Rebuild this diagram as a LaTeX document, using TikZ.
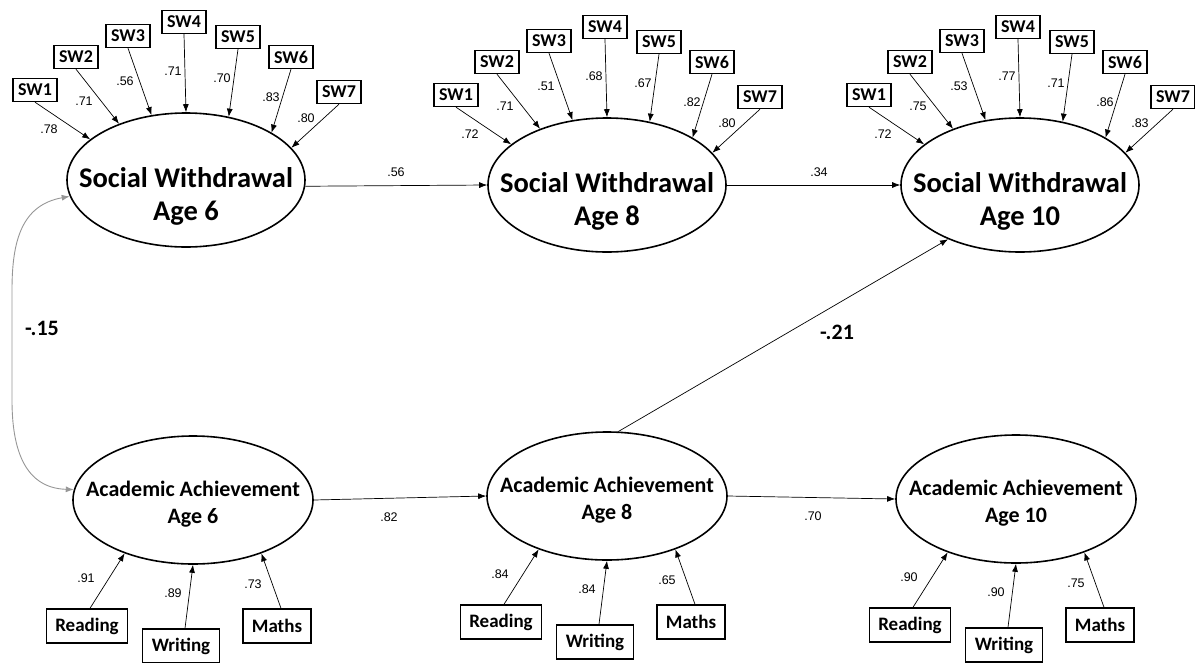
\documentclass[tikz,border=0pt]{standalone}
\usepackage{fontspec}
\setmainfont{Carlito}
\newfontfamily\numfont{Liberation Sans}
\usetikzlibrary{shapes.geometric,arrows.meta}
\definecolor{covgray}{RGB}{150,150,150}
\begin{document}
\begin{tikzpicture}[x=1pt,y=-1pt,
 swell/.style={ellipse,draw,line width=1.6pt,minimum width=238pt,minimum height=134pt,inner sep=0pt},
 aaell/.style={ellipse,draw,line width=1.6pt,minimum width=240pt,minimum height=128pt,inner sep=0pt},
 swtxt/.style={align=center,font=\bfseries\fontsize{28.5}{33}\selectfont,inner sep=0pt},
 aatxt/.style={align=center,font=\bfseries\fontsize{22}{27}\selectfont,inner sep=0pt},
 swbox/.style={draw,line width=1.4pt,minimum width=44pt,minimum height=23pt,inner sep=0pt,font=\bfseries\fontsize{18}{18}\selectfont},
 indbox/.style={draw,line width=1.4pt,minimum height=34pt,inner xsep=9pt,inner ysep=0pt,font=\bfseries\fontsize{19}{19}\selectfont},
 arr/.style={-{Latex[length=8pt,width=6pt]},line width=0.7pt},
 load/.style={font=\numfont\fontsize{12.5}{12.5}\selectfont,inner sep=0pt},
 coef/.style={font=\bfseries\fontsize{22}{22}\selectfont,inner sep=0pt},
 cov/.style={{Latex[length=8pt,width=6pt]}-{Latex[length=8pt,width=6pt]},line width=0.9pt,draw=covgray},
]
\useasboundingbox (0,0) rectangle (1195,662);

% Social withdrawal factors with their indicators
\foreach \c/\cx/\cy/\la/\lb/\lc/\ld/\le/\lf/\lg in {6/186/180/.78/.71/.56/.71/.70/.83/.80, 8/607/185/.72/.71/.51/.68/.67/.82/.80, 10/1020/185/.72/.75/.53/.77/.71/.86/.83}{
  \node[swell] (S\c) at (\cx,\cy) {};
  \node[swtxt] (S\c t) at (\cx,\cy+16) {Social Withdrawal\\Age \c};
  \foreach \i/\dx/\dy/\ang/\lx/\ly/\v in {1/-151/-90/157/-137/-51/\la, 2/-110/-123/140/-102/-79/\lb, 3/-58/-144/118/-61/-99/\lc, 4/-2/-158/90/-13/-109/\ld, 5/52/-143/56/36/-102/\le, 6/105/-123/29/85/-83/\lf, 7/153/-88/17/120/-62/\lg}{
    \node[swbox] (S\c i\i) at (\cx+\dx,\cy+\dy) {SW\i};
    \draw[arr] (S\c i\i.south) -- (S\c.\ang);
    \node[load] (S\c l\i) at (\cx+\lx,\cy+\ly) {\v};
  }
}

% Academic achievement factors with their indicators
\foreach \c/\cx/\cy/\la/\lb/\lc in {6/193/500/.91/.89/.73, 8/607/496/.84/.84/.65, 10/1016/499/.90/.90/.75}{
  \node[aaell] (A\c) at (\cx,\cy) {};
  \node[aatxt] (A\c t) at (\cx,\cy+4) {Academic Achievement\\Age \c};
  \node[indbox] (A\c r) at (\cx-106,\cy+126) {Reading};
  \node[indbox] (A\c w) at (\cx-12,\cy+146) {Writing};
  \node[indbox] (A\c m) at (\cx+84,\cy+126) {Maths};
  \draw[arr] ([xshift=3pt]A\c r.north) -- (A\c.218);
  \draw[arr] ([xshift=4pt]A\c w.north) -- (A\c.270);
  \draw[arr] ([xshift=4pt]A\c m.north) -- (A\c.322);
  \node[load] (A\c lr) at (\cx-107,\cy+78) {\la};
  \node[load] (A\c lw) at (\cx-20,\cy+93) {\lb};
  \node[load] (A\c lm) at (\cx+60,\cy+84) {\lc};
}

% structural paths
\draw[arr] (S6.-3) -- (S8.west);
\node[load] (p1) at (396,172) {.56};
\draw[arr] (S8.east) -- (S10.west);
\node[load] (p2) at (819,172) {.34};
\draw[arr] (A6.east) -- (A8.west);
\node[load] (p3) at (389,517) {.82};
\draw[arr] (A8.east) -- (A10.west);
\node[load] (p4) at (813,516) {.70};
\draw[arr] (A8.80) -- (S10.217);
\node[coef] (p5) at (837,332) {-.21};

% covariance
\draw[cov] (S6.188) .. controls (22,205) and (12,240) .. (12,290) -- (12,400) .. controls (12,450) and (25,488) .. (A6.175);
\node[coef] (p6) at (42,328) {-.15};
\end{tikzpicture}
\end{document}
